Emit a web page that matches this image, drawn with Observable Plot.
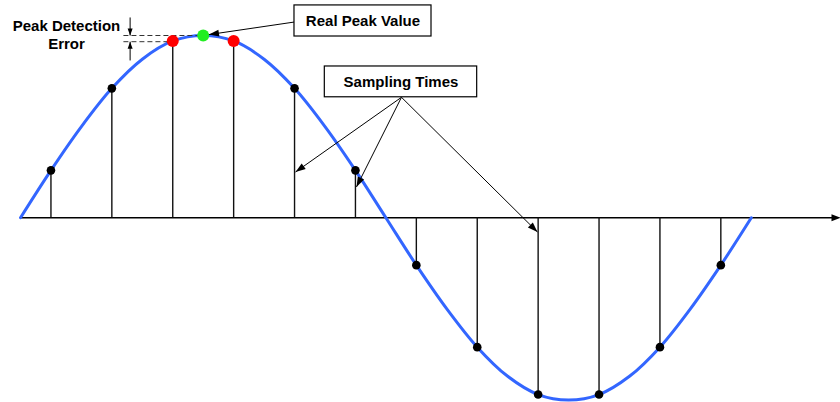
<!DOCTYPE html>
<html>
<head>
<meta charset="utf-8">
<script src="https://cdn.jsdelivr.net/npm/d3@7"></script>
<script src="https://cdn.jsdelivr.net/npm/@observablehq/plot@0.6"></script>
<style>
  html, body { margin: 0; padding: 0; background: #fff; }
  #chart svg { display: block; }
</style>
</head>
<body>
<div id="chart"></div>
<script>
// ---- Data ----
// Continuous signal, time in sample-interval units, amplitude normalised
const curveT = [0, 0.5, 1, 1.5, 2, 2.5, 3, 3.5, 4, 4.5, 5, 5.5, 6, 6.5, 7, 7.5, 8, 8.5, 9, 9.5, 10, 10.5, 11, 11.5, 12];
const curveV = [0, 0.26, 0.50, 0.71, 0.87, 0.97, 1.00, 0.97, 0.87, 0.71, 0.50, 0.26, 0, -0.26, -0.50, -0.71, -0.87, -0.97, -1.00, -0.97, -0.87, -0.71, -0.50, -0.26, 0];

// Sampling times and sampled values
const sampleT = [0.5, 1.5, 2.5, 3.5, 4.5, 5.5, 6.5, 7.5, 8.5, 9.5, 10.5, 11.5];
const sampleV = [0.26, 0.71, 0.97, 0.97, 0.71, 0.26, -0.26, -0.71, -0.97, -0.97, -0.71, -0.26];
const sampleKind = ["normal", "normal", "peak", "peak", "normal", "normal", "normal", "normal", "normal", "normal", "normal", "normal"];

// Real peak
const realPeakT = [3];
const realPeakV = [1.0];

// Annotation labels
const labelText = ["Peak Detection", "Error", "Real Peak Value", "Sampling Times"];
const labelT = [0.755, 0.755, 5.624, 6.248];
const labelV = [1.049, 0.951, 1.080, 0.745];

// Boxes (Real Peak Value, Sampling Times)
const boxT1 = [4.499, 4.997];
const boxT2 = [6.749, 7.499];
const boxV1 = [0.9945, 0.661];
const boxV2 = [1.165, 0.830];

// Dashed guide lines (real peak level, detected peak level)
const guideT1 = [1.69, 1.69];
const guideT2 = [3.0, 2.5];
const guideV = [1.0, 0.966];

// Arrows: from (t1,v1) to tip (t2,v2)
const arrowT1 = [6.256, 6.256, 6.256, 4.499, 1.80, 1.80];
const arrowV1 = [0.661, 0.661, 0.661, 1.074, 1.099, 0.863];
const arrowT2 = [4.516, 5.517, 8.489, 3.095, 1.80, 1.80];
const arrowV2 = [0.251, 0.169, -0.078, 1.005, 1.0, 0.966];
const arrowSize = ["big", "big", "big", "big", "small", "small"];

// Horizontal time axis
const axisT = [0, 13.465];
const axisV = [0, 0];

// ---- Build tables ----
const xDomain = [0, 13.465];
const yDomain = [-1, 1];
const marginLeft = 20, marginRight = 0, marginTop = 35, marginBottom = 2.5;
const width = 840, height = 402;

const curve = curveT.map((t, i) => ({t, v: curveV[i]}));
const samples = sampleT.map((t, i) => ({t, v: sampleV[i], kind: sampleKind[i]}));
const realPeak = realPeakT.map((t, i) => ({t, v: realPeakV[i]}));
const labels = labelText.map((s, i) => ({s, t: labelT[i], v: labelV[i]}));
const boxes = boxT1.map((t1, i) => ({t1, t2: boxT2[i], v1: boxV1[i], v2: boxV2[i]}));
const guides = guideT1.map((t1, i) => ({t1, t2: guideT2[i], v: guideV[i]}));

const sx = Plot.scale({x: {domain: xDomain, range: [marginLeft, width - marginRight]}});
const sy = Plot.scale({y: {domain: yDomain, range: [height - marginBottom, marginTop]}});
const angle = (x1, y1, x2, y2) =>
  Math.atan2(sy.apply(y2) - sy.apply(y1), sx.apply(x2) - sx.apply(x1)) * 180 / Math.PI;

const arrows = arrowT1.map((t1, i) => ({
  t1, v1: arrowV1[i], t2: arrowT2[i], v2: arrowV2[i], size: arrowSize[i],
  rot: angle(t1, arrowV1[i], arrowT2[i], arrowV2[i])
}));
const axisEnd = [{t: axisT[1], v: axisV[1], rot: angle(axisT[0], axisV[0], axisT[1], axisV[1])}];
// shorten axis line so the head covers its end
const axisLineEnd = axisT[1] - 8 / (sx.apply(1) - sx.apply(0));

// Filled arrow head symbol: tip at origin, pointing to +x
const head = (L, W) => ({
  draw(ctx) {
    ctx.moveTo(0, 0);
    ctx.lineTo(-L, -W / 2);
    ctx.lineTo(-L, W / 2);
    ctx.closePath();
  }
});

const font = "'Liberation Sans', Arial, Helvetica, sans-serif";

const chart = Plot.plot({
  width, height, marginLeft, marginRight, marginTop, marginBottom,
  style: {background: "#fff", overflow: "visible"},
  x: {domain: xDomain, axis: null},
  y: {domain: yDomain, axis: null},
  marks: [
    // time axis
    Plot.link([{}], {x1: axisT[0], y1: axisV[0], x2: axisLineEnd, y2: axisV[1], stroke: "#000", strokeWidth: 1.4}),
    Plot.dot(axisEnd, {x: "t", y: "v", rotate: "rot", symbol: head(9, 7), r: 4, fill: "#000", stroke: "none"}),
    // signal
    Plot.line(curve, {x: "t", y: "v", stroke: "#3366ff", strokeWidth: 3, curve: "catmull-rom"}),
    // sample stems
    Plot.ruleX(samples, {x: "t", y1: 0, y2: "v", stroke: "#111", strokeWidth: 1.4}),
    // dashed guides
    Plot.link(guides, {x1: "t1", x2: "t2", y1: "v", y2: "v", stroke: "#333", strokeWidth: 1, strokeDasharray: "5,3"}),
    // sample dots
    Plot.dot(samples.filter(d => d.kind === "normal"), {x: "t", y: "v", r: 4.3, fill: "#000", stroke: "none"}),
    Plot.dot(samples.filter(d => d.kind === "peak"), {x: "t", y: "v", r: 6, fill: "#ff0000", stroke: "none"}),
    Plot.dot(realPeak, {x: "t", y: "v", r: 6, fill: "#22ee22", stroke: "none"}),
    // annotation arrows
    Plot.link(arrows, {x1: "t1", y1: "v1", x2: "t2", y2: "v2", stroke: "#000", strokeWidth: 1}),
    Plot.dot(arrows.filter(d => d.size === "big"), {x: "t2", y: "v2", rotate: "rot", symbol: head(10, 7), r: 4, fill: "#000", stroke: "none"}),
    Plot.dot(arrows.filter(d => d.size === "small"), {x: "t2", y: "v2", rotate: "rot", symbol: head(7, 5), r: 4, fill: "#000", stroke: "none"}),
    // boxes
    Plot.rect(boxes, {x1: "t1", x2: "t2", y1: "v1", y2: "v2", fill: "#fff", stroke: "#000", strokeWidth: 1.2}),
    // labels
    Plot.text(labels, {x: "t", y: "v", text: "s", fontFamily: font, fontWeight: "bold", fontSize: 15, fill: "#000", textAnchor: "middle"})
  ]
});
document.getElementById("chart").appendChild(chart);
</script>
</body>
</html>
